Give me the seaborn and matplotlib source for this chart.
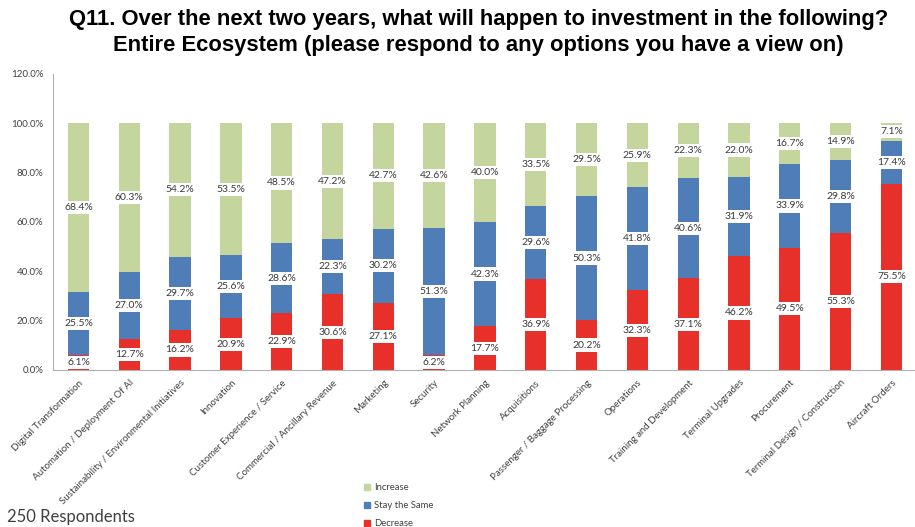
import matplotlib
matplotlib.use("Agg")
import matplotlib.pyplot as plt
from matplotlib.patches import Patch
import seaborn as sns
import pandas as pd
import numpy as np

categories = [
    "Digital Transformation", "Automation / Deployment Of AI",
    "Sustainability / Environmental Initiatives", "Innovation",
    "Customer Experience / Service", "Commercial / Ancillary Revenue",
    "Marketing", "Security", "Network Planning", "Acquisitions",
    "Passenger / Baggage Processing", "Operations", "Training and Development",
    "Terminal Upgrades", "Procurement", "Terminal Design / Construction",
    "Aircraft Orders",
]
decrease = [6.1, 12.7, 16.2, 20.9, 22.9, 30.6, 27.1, 6.2, 17.7, 36.9, 20.2, 32.3, 37.1, 46.2, 49.5, 55.3, 75.5]
stay_same = [25.5, 27.0, 29.7, 25.6, 28.6, 22.3, 30.2, 51.3, 42.3, 29.6, 50.3, 41.8, 40.6, 31.9, 33.9, 29.8, 17.4]
increase = [68.4, 60.3, 54.2, 53.5, 48.5, 47.2, 42.7, 42.6, 40.0, 33.5, 29.5, 25.9, 22.3, 22.0, 16.7, 14.9, 7.1]
series_names = ["Decrease", "Stay the Same", "Increase"]
yticks = [0, 20, 40, 60, 80, 100, 120]

colors = {"Decrease": "#E8302A", "Stay the Same": "#4F7DB8", "Increase": "#C4D69E"}

sns.set_theme(style="white")
plt.rcParams["font.family"] = ["Lato", "DejaVu Sans"]

df = pd.DataFrame({"category": categories, "Decrease": decrease,
                   "Stay the Same": stay_same, "Increase": increase})

fig = plt.figure(figsize=(9.15, 5.27), dpi=100)
ax = fig.add_axes([0.058, 0.298, 0.944, 0.562])

bottom = np.zeros(len(categories))
for name in series_names:
    vals = df[name].to_numpy()
    sns.barplot(data=df, x="category", y=name, color=colors[name], bottom=bottom,
                width=0.42, ax=ax, saturation=1, linewidth=0)
    for i, v in enumerate(vals):
        ax.text(i, bottom[i] + v / 2, f"{v:.1f}%", ha="center", va="center",
                fontsize=7.5, color="#3a3a3a",
                bbox=dict(boxstyle="square,pad=0.2", fc="white", ec="none"))
    bottom = bottom + vals

ax.set_ylim(0, 120)
ax.set_xlim(-0.5, 16.35)
ax.set_yticks(yticks)
ax.set_yticklabels([f"{t:.1f}%" for t in yticks], fontsize=7, color="#404040")
ax.set_xlabel("")
ax.set_ylabel("")
ax.set_xticks(range(len(categories)))
ax.set_xticklabels(categories, rotation=45, ha="right", rotation_mode="anchor",
                   fontsize=7, color="#404040")
ax.tick_params(axis="x", which="major", length=0, pad=6)
ax.set_xticks(np.arange(-0.5, len(categories), 1.0), minor=True)
ax.tick_params(axis="x", which="minor", length=4, color="#b0b0b0", direction="out")
ax.tick_params(axis="y", length=4, color="#b0b0b0", direction="out", pad=3)
for s in ["top", "right"]:
    ax.spines[s].set_visible(False)
for s in ["left", "bottom"]:
    ax.spines[s].set_color("#b0b0b0")
    ax.spines[s].set_linewidth(0.8)

fig.text(0.523, 0.982, "Q11. Over the next two years, what will happen to investment in the following?\n"
         "Entire Ecosystem (please respond to any options you have a view on)",
         ha="center", va="top", fontsize=15.8, fontweight="bold", color="black",
         family=["Liberation Sans", "DejaVu Sans"], linespacing=1.3)

handles = [Patch(color=colors[n], label=n) for n in ["Increase", "Stay the Same", "Decrease"]]
fig.legend(handles=handles, loc="upper left", bbox_to_anchor=(0.392, 0.094),
           frameon=False, fontsize=6.8, handlelength=0.6, handleheight=0.6,
           handletextpad=0.4, labelspacing=0.95, labelcolor="#404040",
           borderaxespad=0.2)

fig.text(0.008, 0.004, "250 Respondents", ha="left", va="bottom", fontsize=12,
         color="#404040")

fig.savefig("out.png", dpi=100)
